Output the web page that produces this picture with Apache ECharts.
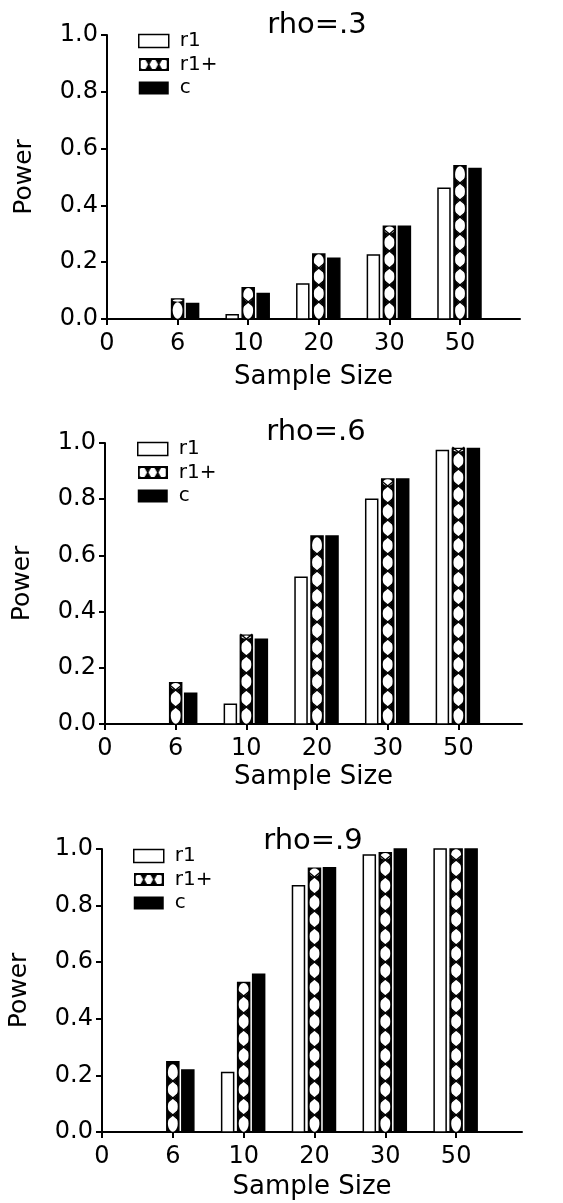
<!DOCTYPE html>
<html>
<head>
<meta charset="utf-8">
<title>Power by sample size</title>
<script src="https://cdn.jsdelivr.net/npm/echarts@6/dist/echarts.min.js"></script>
<style>
  html, body { margin: 0; padding: 0; background: #fff; }
  #chart { width: 563px; height: 1203px; }
</style>
</head>
<body>
<div id="chart"></div>
<script>
// x tick labels (sample sizes) and the sample sizes that have bars
const tickLabels = ['0', '6', '10', '20', '30', '50'];
const sizes = ['6', '10', '20', '30', '50'];
const seriesNames = ['r1', 'r1+', 'c'];
const panelTitles = ['rho=.3', 'rho=.6', 'rho=.9'];

// power values
const r1_03  = [0, 0.015, 0.123, 0.225, 0.46];
const r1p_03 = [0.07, 0.11, 0.229, 0.327, 0.54];
const c_03   = [0.055, 0.09, 0.214, 0.327, 0.53];

const r1_06  = [0, 0.07, 0.522, 0.80, 0.973];
const r1p_06 = [0.147, 0.316, 0.669, 0.872, 0.98];
const c_06   = [0.109, 0.302, 0.669, 0.872, 0.98];

const r1_09  = [0, 0.21, 0.87, 0.979, 1.0];
const r1p_09 = [0.248, 0.528, 0.932, 0.987, 1.0];
const c_09   = [0.219, 0.557, 0.934, 1.0, 1.0];

const panelData = [
  [r1_03, r1p_03, c_03],
  [r1_06, r1p_06, c_06],
  [r1_09, r1p_09, c_09]
];

// layout of the three panels (pixels)
const panels = [
  { left: 107, top: 35,  width: 413, height: 284, xMax: 5.85, nameGap: 45, titleX: 317, titleY: 25,  legendX: 138, legendY: 31 },
  { left: 105, top: 443, width: 417, height: 281, xMax: 5.9,  nameGap: 40, titleX: 316, titleY: 432, legendX: 137, legendY: 439 },
  { left: 102, top: 849, width: 420, height: 283, xMax: 5.93, nameGap: 42, titleX: 313, titleY: 841, legendX: 133, legendY: 846 }
];

const FONT = 'DejaVu Sans';
const BAR_W = 12;
const PERIOD = 17;
const OFFSETS = [-16, 0, 15];   // bar centre offset from the tick, px

function toPoints(vals) {
  return vals.map((v, i) => [tickLabels.indexOf(sizes[i]), v]);
}

// draws one bar: 'open' = white, 'hatch' = lattice, 'solid' = black
function barRenderer(kind, dx) {
  return function (params, api) {
    const x = api.value(0), v = api.value(1);
    if (!(v > 0)) return null;
    const p0 = api.coord([x, 0]);
    const p1 = api.coord([x, v]);
    const l = p0[0] + dx - BAR_W / 2, r = l + BAR_W;
    const b = p0[1], t = p1[1];
    const kids = [];
    kids.push({
      type: 'rect',
      shape: { x: l, y: t, width: BAR_W, height: b - t },
      style: { fill: kind === 'open' ? '#fff' : '#000', stroke: '#000', lineWidth: 1.5 }
    });
    if (kind === 'hatch') {
      const cx = (l + r) / 2;
      // white ovals stacked up the bar, with black crosses where they meet
      for (let y0 = b; y0 > t + 1; y0 -= PERIOD) {
        const y1 = Math.max(y0 - PERIOD, t);
        const ry = (y0 - y1) / 2 - 0.3;
        if (ry < 1) break;
        kids.push({
          type: 'ellipse',
          shape: { cx: cx, cy: (y0 + y1) / 2, rx: BAR_W / 2 - 1.1, ry: ry },
          style: { fill: '#fff' }
        });
      }
      for (let y0 = b - PERIOD; y0 > t + 3; y0 -= PERIOD) {
        kids.push({ type: 'line', shape: { x1: l, y1: y0 - 5, x2: r, y2: y0 + 5 }, style: { stroke: '#000', lineWidth: 1.4 } });
        kids.push({ type: 'line', shape: { x1: l, y1: y0 + 5, x2: r, y2: y0 - 5 }, style: { stroke: '#000', lineWidth: 1.4 } });
      }
    }
    return { type: 'group', children: kids };
  };
}

// legend icon for the lattice series
function hatchIcon() {
  const cv = document.createElement('canvas');
  cv.width = 30; cv.height = 13;
  const g = cv.getContext('2d');
  g.fillStyle = '#000';
  g.fillRect(0, 0, 30, 13);
  g.fillStyle = '#fff';
  for (let x = 0; x < 30; x += 10) {
    g.beginPath(); g.ellipse(x + 5, 6.5, 4.6, 4.8, 0, 0, Math.PI * 2); g.fill();
  }
  g.strokeStyle = '#000';
  g.lineWidth = 1.3;
  for (let x = 10; x < 30; x += 10) {
    g.beginPath(); g.moveTo(x - 3, 1); g.lineTo(x + 3, 12); g.moveTo(x + 3, 1); g.lineTo(x - 3, 12); g.stroke();
  }
  g.lineWidth = 2;
  g.strokeRect(1, 1, 28, 11);
  return 'image://' + cv.toDataURL();
}

const kinds = ['open', 'hatch', 'solid'];
const hatch = hatchIcon();

const option = {
  animation: false,
  backgroundColor: '#fff',
  title: [],
  legend: [],
  grid: [],
  xAxis: [],
  yAxis: [],
  series: []
};

panels.forEach((p, k) => {
  option.title.push({
    text: panelTitles[k],
    left: p.titleX,
    top: p.titleY,
    padding: 0,
    textAlign: 'center',
    textVerticalAlign: 'middle',
    textStyle: { fontFamily: FONT, fontSize: 29, fontWeight: 'normal', color: '#000' }
  });
  option.legend.push({
    orient: 'vertical',
    left: p.legendX,
    top: p.legendY,
    padding: 0,
    itemWidth: 30,
    itemHeight: 13,
    itemGap: 3.5,
    selectedMode: false,
    textStyle: { fontFamily: FONT, fontSize: 20, color: '#000', padding: [0, 0, 0, 6] },
    data: [
      { name: 'r1', icon: 'rect', itemStyle: { color: '#fff', borderColor: '#000', borderWidth: 1.5 } },
      { name: 'r1+', icon: hatch },
      { name: 'c', icon: 'rect', itemStyle: { color: '#000', borderColor: '#000', borderWidth: 0 } }
    ]
  });
  option.grid.push({
    left: p.left, top: p.top, width: p.width, height: p.height,
    containLabel: false, outerBoundsMode: 'none'
  });
  option.xAxis.push({
    gridIndex: k,
    type: 'value',
    min: 0,
    max: p.xMax,
    interval: 1,
    name: 'Sample Size',
    nameLocation: 'middle',
    nameGap: p.nameGap,
    nameTextStyle: { fontFamily: FONT, fontSize: 26, color: '#000' },
    axisLine: { onZero: false, lineStyle: { color: '#000', width: 2 } },
    axisTick: { show: true, length: 6, lineStyle: { color: '#000', width: 2 }, customValues: [0, 1, 2, 3, 4, 5] },
    axisLabel: {
      fontFamily: FONT, fontSize: 24, color: '#000', margin: 13,
      customValues: [0, 1, 2, 3, 4, 5],
      formatter: v => (Number.isInteger(v) && tickLabels[v] !== undefined ? tickLabels[v] : '')
    },
    splitLine: { show: false }
  });
  option.yAxis.push({
    gridIndex: k,
    type: 'value',
    min: 0,
    max: 1,
    interval: 0.2,
    name: 'Power',
    nameLocation: 'middle',
    nameGap: 70,
    nameTextStyle: { fontFamily: FONT, fontSize: 25, color: '#000' },
    axisLine: { show: true, lineStyle: { color: '#000', width: 2 } },
    axisTick: { show: true, length: 6, lineStyle: { color: '#000', width: 2 } },
    axisLabel: { fontFamily: FONT, fontSize: 24, color: '#000', margin: 9, formatter: v => v.toFixed(1) },
    splitLine: { show: false }
  });
  panelData[k].forEach((vals, s) => {
    option.series.push({
      name: seriesNames[s],
      type: 'custom',
      xAxisIndex: k,
      yAxisIndex: k,
      encode: { x: 0, y: 1 },
      itemStyle: { color: s === 2 ? '#000' : '#fff', borderColor: '#000' },
      renderItem: barRenderer(kinds[s], OFFSETS[s]),
      data: toPoints(vals)
    });
  });
});

const myChart = echarts.init(document.getElementById('chart'));
myChart.setOption(option);
window.addEventListener('resize', () => { myChart.resize(); });
</script>
</body>
</html>
